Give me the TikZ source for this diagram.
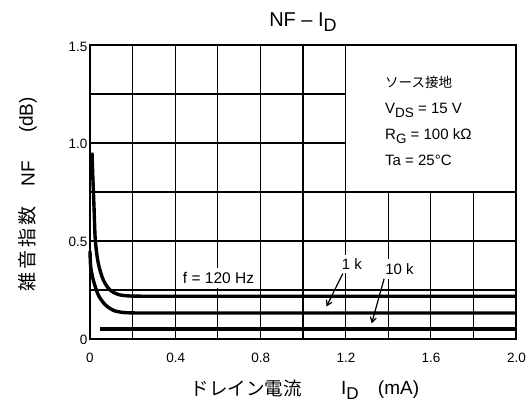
\documentclass[tikz,border=0pt]{standalone}
\usepackage{fontspec}
\usepackage{graphicx}
\setmainfont{Liberation Sans}
\newfontfamily\jpfont{Noto Sans CJK JP}
\newfontfamily\jpwide[LetterSpace=15]{Noto Sans CJK JP}
\usetikzlibrary{arrows.meta}
\newcommand\lsub[1]{\raisebox{-0.28em}{\scalebox{0.9}{#1}}}
\begin{document}
\begin{tikzpicture}[x=1pt,y=-1pt,
  gridline/.style={line width=1.2pt},
  frameline/.style={line width=2.7pt},
  curveline/.style={line width=3.4pt},
  ticklab/.style={font=\fontsize{13.5}{15}\selectfont, inner sep=0pt},
  plotlab/.style={font=\fontsize{15}{17}\selectfont, fill=white, inner xsep=1pt, inner ysep=4pt},
  legendtext/.style={font=\fontsize{15}{18}\selectfont, inner sep=0pt, anchor=base west},
  axlab/.style={font=\fontsize{19}{22}\selectfont, inner sep=0pt},
  arr/.style={line width=1.2pt, -{Straight Barb[length=5pt,width=6pt]}}
]
\useasboundingbox (0,0) rectangle (528,410);
% grid
\foreach \i in {1,...,9} \draw[gridline] ({90+42.6*\i},45) -- ({90+42.6*\i},339);
\foreach \j in {1,...,5} \draw[gridline] (90,{339-49*\j}) -- (516,{339-49*\j});
% legend box
\draw[fill=white, line width=1.2pt] (345.6,45) rectangle (516,192);
\node[legendtext] (lg1) at (385,87) {\jpfont\fontsize{13.5}{16}\selectfont ソース接地};
\node[legendtext] (lg2) at (385,113.3) {V\lsub{DS} = 15 V};
\node[legendtext] (lg3) at (385,139.3) {R\lsub{G} = 100 kΩ};
\node[legendtext] (lg4) at (385,165) {Ta = 25°C};
% curves
\draw[curveline] plot[smooth] coordinates {(92,152.7) (92.7,173.3) (94,206.7) (95.3,240) (98.3,263.3) (103.3,280) (110,290) (118.3,294.5) (130,296) (145,296.2)} -- (516,296.2);
\draw[curveline] plot[smooth] coordinates {(90,251) (90.7,266.7) (93.3,280) (98.3,295) (105,304.5) (113.3,310.3) (123.3,312.5) (138,313)} -- (516,313);
\draw[line width=4pt] (100,329) -- (516,329);
% labels in plot
\node[plotlab, font=\fontsize{15.5}{17}\selectfont] (f120) at (218.5,278) {f = 120 Hz};
\node[plotlab] (k1) at (352,264) {1 k};
\node[plotlab] (k10) at (399.5,269) {10 k};
\coordinate (k1tip) at (326.5,306.5);
\coordinate (k10tip) at (371.7,323.3);
\draw[arr] ([xshift=2pt]k1.south west) -- (k1tip);
\draw[arr] (k10.south west) -- (k10tip);
% frame
\draw[frameline] (90,45) rectangle (516,339);
% ticks
\node[ticklab, anchor=east] (y0) at (87.5,340) {0};
\node[ticklab, anchor=east] (y05) at (87.5,242) {0.5};
\node[ticklab, anchor=east] (y10) at (87.5,144) {1.0};
\node[ticklab, anchor=east] (y15) at (87.5,47) {1.5};
\node[ticklab, anchor=base] (x0) at (90,362.5) {0};
\node[ticklab, anchor=base] (x04) at (175.8,362.5) {0.4};
\node[ticklab, anchor=base] (x08) at (260.8,362.5) {0.8};
\node[ticklab, anchor=base] (x12) at (346,362.5) {1.2};
\node[ticklab, anchor=base] (x16) at (431,362.5) {1.6};
\node[ticklab, anchor=base] (x20) at (516.5,362.5) {2.0};
% title
\node[font=\fontsize{20}{24}\selectfont, inner sep=0pt, anchor=base] (title) at (303,26) {NF – I\lsub{D}};
% axis labels
\node[axlab, anchor=base] (xlabA) at (246,395) {\jpfont\fontsize{18.5}{22}\selectfont ドレイン電流};
\node[axlab, anchor=base] (xlabB) at (350,394) {I\lsub{D}};
\node[axlab, anchor=base] (xlabC) at (398.5,394) {(mA)};
\node[axlab, rotate=90] (ylabA) at (27.5,249) {\jpwide\fontsize{19}{22}\selectfont 雑音指数};
\node[axlab, rotate=90] (ylabB) at (28,173.5) {NF};
\node[axlab, rotate=90] (ylabC) at (28,115) {(dB)};
\end{tikzpicture}
\end{document}
